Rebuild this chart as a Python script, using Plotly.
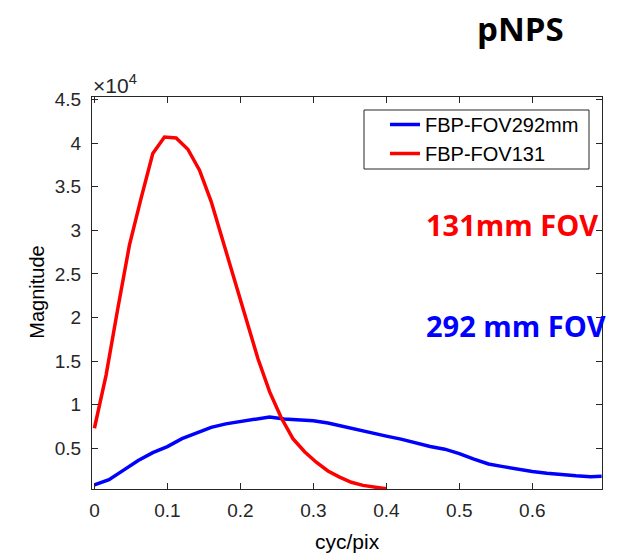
import plotly.graph_objects as go

# Data (magnitude values)
x_red = [0.000, 0.016, 0.032, 0.048, 0.064, 0.080, 0.096, 0.112, 0.128, 0.144,
         0.160, 0.176, 0.192, 0.208, 0.224, 0.240, 0.256, 0.272, 0.288, 0.304,
         0.320, 0.336, 0.352, 0.368, 0.384, 0.400]
y_red = [7300, 13400, 21000, 28300, 33700, 38800, 40700, 40600, 39300, 36900,
         33300, 28800, 24200, 19500, 15300, 11500, 8500, 6100, 4600, 3400,
         2400, 1700, 1100, 750, 500, 350]

x_blue = [0.00, 0.02, 0.04, 0.06, 0.08, 0.10, 0.12, 0.14, 0.16, 0.18,
          0.20, 0.22, 0.24, 0.26, 0.28, 0.30, 0.32, 0.34, 0.36, 0.38,
          0.40, 0.42, 0.44, 0.46, 0.48, 0.50, 0.52, 0.54, 0.56, 0.58,
          0.60, 0.62, 0.64, 0.66, 0.68, 0.695]
y_blue = [800, 1400, 2500, 3600, 4500, 5200, 6100, 6800, 7400, 7800,
          8100, 8400, 8600, 8350, 8250, 8150, 7900, 7500, 7200, 6800,
          6400, 6050, 5600, 5200, 4900, 4400, 3750, 3200, 2900, 2600,
          2350, 2150, 1980, 1850, 1750, 1800]

series_names = ["FBP-FOV292mm", "FBP-FOV131"]
x_ticks = [0, 0.1, 0.2, 0.3, 0.4, 0.5, 0.6]
x_ticktext = ["0", "0.1", "0.2", "0.3", "0.4", "0.5", "0.6"]
y_ticks = [5000, 10000, 15000, 20000, 25000, 30000, 35000, 40000, 45000]
y_ticktext = ["0.5", "1", "1.5", "2", "2.5", "3", "3.5", "4", "4.5"]

AX = "#262626"
FONT = "Liberation Sans, Arial, sans-serif"
BOLD = "Open Sans, Noto Sans, sans-serif"

L, R, T, B = 92, 29, 97, 64
PW, PH = 631 - L - R, 553 - T - B


def px(xp):
    return (xp - L) / PW


def py(yp):
    return (553 - B - yp) / PH


fig = go.Figure()
fig.add_trace(go.Scatter(x=x_blue, y=y_blue, mode="lines", name=series_names[0],
                         line=dict(color="#0000FF", width=3.5)))
fig.add_trace(go.Scatter(x=x_red, y=y_red, mode="lines", name=series_names[1],
                         line=dict(color="#FF0000", width=3.5)))

fig.update_layout(
    width=631, height=553,
    margin=dict(l=L, r=R, t=T, b=B),
    paper_bgcolor="white", plot_bgcolor="white",
    font=dict(family=FONT, size=18, color=AX),
    showlegend=True,
    legend=dict(x=px(385), y=py(105), xanchor="left", yanchor="top",
                bgcolor="rgba(0,0,0,0)", borderwidth=0,
                font=dict(family=FONT, size=20, color="#000000"),
                tracegroupgap=0),
    shapes=[dict(type="rect", xref="paper", yref="paper",
                 x0=px(364), x1=px(589), y0=py(110), y1=py(169),
                 line=dict(color=AX, width=1), fillcolor="white", layer="below")],
)
fig.update_xaxes(range=[-0.0033, 0.6955], showgrid=False, zeroline=False,
                 showline=True, linecolor=AX, linewidth=1, mirror="ticks",
                 ticks="inside", ticklen=6, tickcolor=AX, automargin=False,
                 ticklabelstandoff=4,
                 tickvals=x_ticks, ticktext=x_ticktext,
                 tickfont=dict(family=FONT, size=19, color=AX))
fig.update_yaxes(range=[333, 45290], showgrid=False, zeroline=False,
                 showline=True, linecolor=AX, linewidth=1, mirror="ticks",
                 ticks="inside", ticklen=6, tickcolor=AX, automargin=False,
                 ticklabelstandoff=6,
                 tickvals=y_ticks, ticktext=y_ticktext,
                 tickfont=dict(family=FONT, size=19, color=AX))

annotations = [
    dict(text="×10<sup>4</sup>", x=px(91), y=py(84), xref="paper", yref="paper",
         xanchor="left", yanchor="middle", showarrow=False,
         font=dict(family=FONT, size=21, color=AX)),
    dict(text="Magnitude", x=px(36.7), y=py(292), xref="paper", yref="paper",
         xanchor="center", yanchor="middle", textangle=-90, showarrow=False,
         font=dict(family=FONT, size=20, color="#000000")),
    dict(text="cyc/pix", x=px(347), y=py(541), xref="paper", yref="paper",
         xanchor="center", yanchor="middle", showarrow=False,
         font=dict(family=FONT, size=21, color="#000000")),
    dict(text="<b>pNPS</b>", x=px(520), y=py(28), xref="paper", yref="paper",
         xanchor="center", yanchor="middle", showarrow=False,
         font=dict(family=BOLD, size=33, color="#000000")),
    dict(text="<b>131mm FOV</b>", x=px(424), y=py(224), xref="paper", yref="paper",
         xanchor="left", yanchor="middle", showarrow=False,
         font=dict(family=BOLD, size=29, color="#FF0000")),
    dict(text="<b>292 mm FOV</b>", x=px(424), y=py(325), xref="paper", yref="paper",
         xanchor="left", yanchor="middle", showarrow=False,
         font=dict(family=BOLD, size=29, color="#0000FF")),
]
fig.update_layout(annotations=annotations)

fig.write_html("out.html", config={"displayModeBar": False},
               post_script="document.body.style.margin='0px';")
